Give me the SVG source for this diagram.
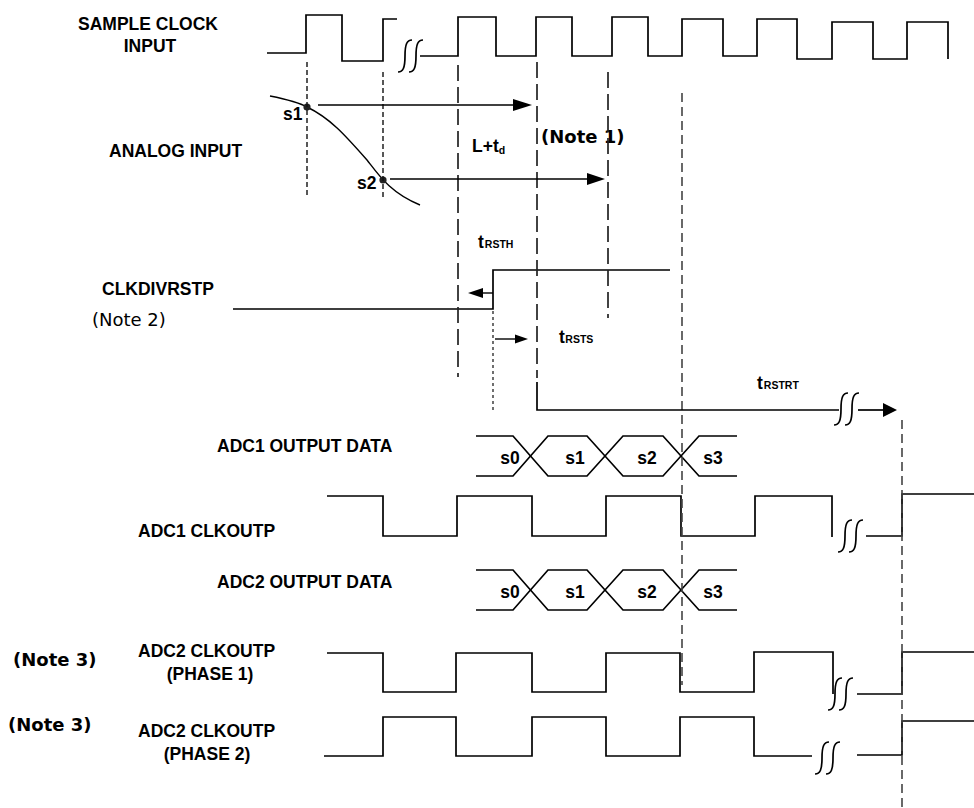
<svg xmlns="http://www.w3.org/2000/svg" xmlns:xlink="http://www.w3.org/1999/xlink" width="974" height="808" viewBox="0 0 974 808">
<style>
.lbl{font-family:"Liberation Sans",Arial,sans-serif;font-weight:bold;font-size:17.5px;fill:#000}
.sub{font-size:10.5px}
.note{font-family:"DejaVu Sans",Verdana,sans-serif;font-size:18px;fill:#000}
.nb{font-weight:bold}
.w{fill:none;stroke:#000;stroke-width:1.7}
.ln{fill:none;stroke:#000;stroke-width:1.4}
.ds{fill:none;stroke:#111;stroke-width:1.4;stroke-dasharray:5 3}
.dl{fill:none;stroke:#222;stroke-width:1.7;stroke-dasharray:16 6}
.dm{fill:none;stroke:#444;stroke-width:1.6;stroke-dasharray:9 5}
.dd{fill:none;stroke:#222;stroke-width:1.3;stroke-dasharray:3 3}
.ah{fill:#000}
</style>
<defs>
<path id="brk" d="M0,32 C5,32 7,28 7,16 C7,4 9,0 14,0 M11,32 C16,32 18,28 18,16 C18,4 20,0 25,0" class="w"/>
</defs>

<g id="sample-clock">
<text class="lbl" x="148" y="30" text-anchor="middle">SAMPLE CLOCK</text>
<text class="lbl" x="150" y="52" text-anchor="middle">INPUT</text>
<path class="w" d="M267,53 H306 V15 H342 V61 H383 V19 H397"/>
<use xlink:href="#brk" x="398" y="40"/>
<path class="w" d="M420,56 H458 V17 H496 V56 H536 V17 H572 V56 H612 V17 H648 V56 H682 V19 H723 V56 H757 V19 H797 V59 H832 V22 H873 V59 H907 V22 H948 V59"/>
</g>

<g id="analog-input">
<text class="lbl" x="109" y="157">ANALOG INPUT</text>
<path class="ln" d="M270,96 C285,99 300,103 307,107 C330,118 345,135 367,160 C378,174 390,193 420,205"/>
<circle cx="307" cy="107" r="3.6" fill="#222"/>
<circle cx="383" cy="180" r="3.6" fill="#222"/>
<text class="lbl" x="283" y="120">s1</text>
<text class="lbl" x="357" y="189">s2</text>
<text class="lbl" x="472" y="152">L+t<tspan class="sub" font-size="12px" dy="2">d</tspan></text>
<text class="note nb" x="541" y="143">(Note 1)</text>
</g>

<g id="clkdivrstp">
<text class="lbl" x="102" y="295">CLKDIVRSTP</text>
<text class="note" x="92" y="326">(Note 2)</text>
<path class="w" d="M233,309 H493 V270 H670"/>
<text class="lbl" x="478" y="248">t<tspan class="sub" dx="1">RSTH</tspan></text>
<text class="lbl" x="559" y="343">t<tspan class="sub" dx="0.5">RSTS</tspan></text>
<text class="lbl" x="757" y="389">t<tspan class="sub" dx="1">RSTRT</tspan></text>
</g>

<g id="adc1-data">
<text class="lbl" x="217" y="452">ADC1 OUTPUT DATA</text>
<path class="w" d="M476,436 H513 L548,476 H587 L623,436 H663 L699,476 H737"/>
<path class="w" d="M476,476 H513 L548,436 H587 L623,476 H663 L699,436 H737"/>
<text class="lbl" x="510" y="464" text-anchor="middle">s0</text>
<text class="lbl" x="575" y="464" text-anchor="middle">s1</text>
<text class="lbl" x="647" y="464" text-anchor="middle">s2</text>
<text class="lbl" x="713" y="464" text-anchor="middle">s3</text>
</g>

<g id="adc1-clkout">
<text class="lbl" x="138" y="537">ADC1 CLKOUTP</text>
<path class="w" d="M327,496 H383 V536 H457 V496 H532 V536 H606 V496 H681 V536 H755 V496 H832 V537"/>
<use xlink:href="#brk" x="838" y="520"/>
<path class="w" d="M866,536 H902 V494 H974"/>
</g>

<g id="adc2-data">
<text class="lbl" x="217" y="588">ADC2 OUTPUT DATA</text>
<path class="w" d="M476,570 H513 L548,610 H587 L623,570 H663 L699,610 H737"/>
<path class="w" d="M476,610 H513 L548,570 H587 L623,610 H663 L699,570 H737"/>
<text class="lbl" x="510" y="598" text-anchor="middle">s0</text>
<text class="lbl" x="575" y="598" text-anchor="middle">s1</text>
<text class="lbl" x="647" y="598" text-anchor="middle">s2</text>
<text class="lbl" x="713" y="598" text-anchor="middle">s3</text>
</g>

<g id="adc2-clkout-phase1">
<text class="note nb" x="13" y="666">(Note 3)</text>
<text class="lbl" x="138" y="657">ADC2 CLKOUTP</text>
<text class="lbl" x="210" y="680" text-anchor="middle">(PHASE 1)</text>
<path class="w" d="M327,653 H383 V692 H456 V653 H532 V692 H606 V653 H680 V692 H754 V652 H833 V694"/>
<use xlink:href="#brk" x="828" y="678"/>
<path class="w" d="M857,694 H902 V652 H974"/>
</g>

<g id="adc2-clkout-phase2">
<text class="note nb" x="8" y="731">(Note 3)</text>
<text class="lbl" x="138" y="737">ADC2 CLKOUTP</text>
<text class="lbl" x="207" y="760" text-anchor="middle">(PHASE 2)</text>
<path class="w" d="M324,756 H383 V717 H456 V756 H532 V717 H606 V756 H680 V717 H754 V756 H812"/>
<use xlink:href="#brk" x="815" y="742"/>
<path class="w" d="M857,755 H902 V721 H974"/>
</g>

<g id="connectors">
<path class="ds" d="M307,62 V198"/>
<path class="ds" d="M383,72 V198"/>
<path class="dl" d="M458,65 V377"/>
<path class="dl" d="M537,62 V378"/>
<path class="dl" d="M608,72 V318"/>
<path class="dm" d="M682,93 V685"/>
<path class="dm" d="M902,420 V808"/>
<path class="dd" d="M493,311 V410"/>
<path class="ln" d="M318,105 H515"/>
<polygon class="ah" points="532,105 513,99 513,111"/>
<path class="ln" d="M390,179 H589"/>
<polygon class="ah" points="605,179 587,173 587,185"/>
<path class="ln" d="M493,293 H480"/>
<polygon class="ah" points="468,293 483,288 483,298"/>
<path class="ln" d="M495,339 H516"/>
<polygon class="ah" points="528,339 515,334.5 515,343.5"/>
<path class="w" d="M537,382 V410 H839"/>
<use xlink:href="#brk" x="834" y="393"/>
<path class="w" d="M858,410 H885"/>
<polygon class="ah" points="897,410 883,403 883,417"/>
</g>
</svg>
